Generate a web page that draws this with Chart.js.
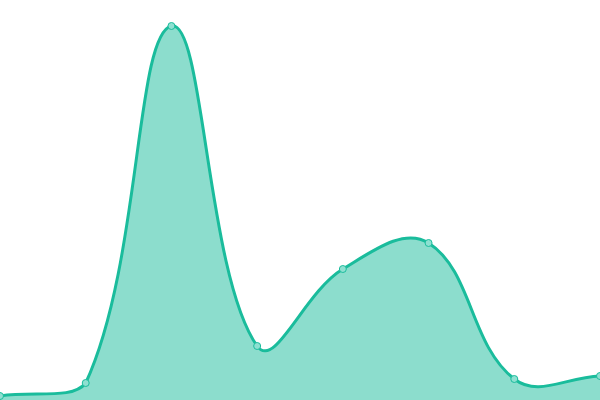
<!DOCTYPE html>
<html>
<head>
<meta charset="utf-8">
<script src="https://cdn.jsdelivr.net/npm/chart.js@4"></script>
<style>
  html, body { margin: 0; padding: 0; background: #fff; }
  #wrap { width: 600px; height: 400px; }
</style>
</head>
<body>
<div id="wrap"><canvas id="areaChart"></canvas></div>
<script>
// values
const labels = ['1', '2', '3', '4', '5', '6', '7', '8'];
const values = [4, 17, 374, 54, 131, 157, 21, 24];
const yMin = 0;
const yMax = 400;

document.addEventListener('DOMContentLoaded', function () {
  const ctx = document.getElementById('areaChart');
  new Chart(ctx, {
    type: 'line',
    data: {
      labels: labels,
      datasets: [{
        data: values,
        borderColor: '#1abc9c',
        backgroundColor: 'rgba(26,188,156,0.5)',
        borderWidth: 3,
        fill: true,
        tension: 0.4,
        pointRadius: 3.5,
        pointBorderWidth: 1,
        pointBackgroundColor: '#8ee0d1',
        pointBorderColor: '#1abc9c'
      }]
    },
    options: {
      responsive: true,
      maintainAspectRatio: false,
      animation: false,
      layout: { padding: 0, autoPadding: false },
      plugins: {
        legend: { display: false },
        tooltip: { enabled: false }
      },
      scales: {
        x: { display: false, offset: false },
        y: { display: false, min: yMin, max: yMax }
      }
    }
  });
});
</script>
</body>
</html>
